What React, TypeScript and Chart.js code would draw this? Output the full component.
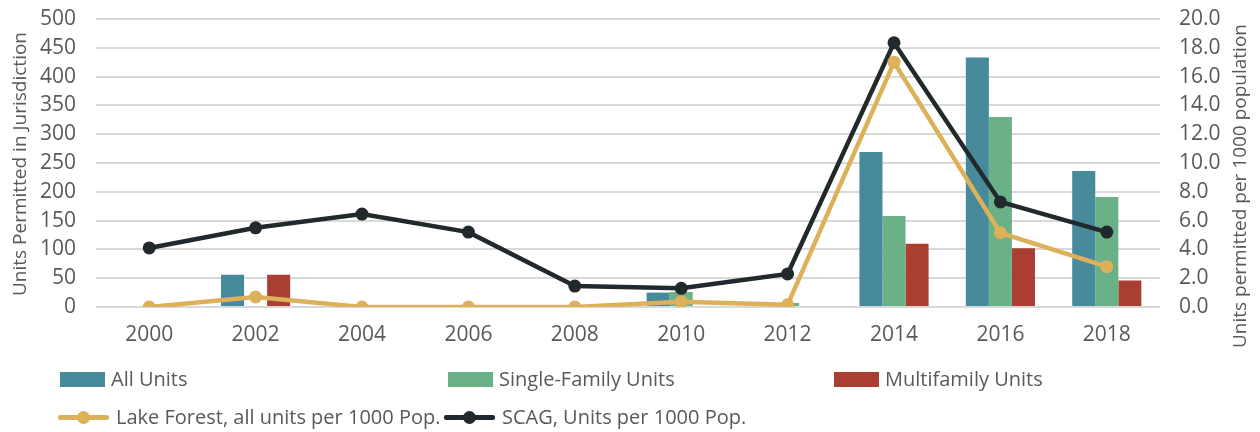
import React, { useEffect, useRef } from "react";
import { Chart, registerables } from "chart.js";

Chart.register(...registerables);

const years = ["2000", "2002", "2004", "2006", "2008", "2010", "2012", "2014", "2016", "2018"];
const allUnits = [0, 56, 0, 0, 0, 25, 7, 269, 433, 236];
const singleFamily = [0, 0, 0, 0, 0, 26, 7, 158, 330, 191];
const multifamily = [0, 56, 0, 0, 0, 0, 0, 110, 102, 46];
const lakeForestPer1000 = [0, 0.7, 0, 0, 0, 0.37, 0.15, 17.0, 5.15, 2.8];
const scagPer1000 = [4.1, 5.5, 6.45, 5.2, 1.45, 1.3, 2.3, 18.35, 7.3, 5.2];

const leftMax = 500;
const leftStep = 50;
const rightMax = 20;
const rightStep = 2;

const leftTitle = "Units Permitted in Jurisdiction";
const rightTitle = "Units permitted per 1000 population";

const barLabels = ["All Units", "Single-Family Units", "Multifamily Units"];
const barColors = ["#478A9B", "#6AB187", "#AA3E33"];
const lineLabels = ["Lake Forest, all units per 1000 Pop.", "SCAG, Units per 1000 Pop."];
const lineColors = ["#DDB05A", "#22292D"];

const FONT = "'Open Sans', 'Liberation Sans', sans-serif";
const TEXT = "#595959";

const titlesPlugin = {
  id: "axisTitles",
  afterDraw(chart: any) {
    const { ctx, chartArea } = chart;
    const cy = (chartArea.top + chartArea.bottom) / 2;
    ctx.save();
    ctx.fillStyle = TEXT;
    ctx.font = `19px ${FONT}`;
    ctx.textAlign = "center";
    ctx.textBaseline = "middle";
    ctx.translate(21, cy + 1);
    ctx.rotate(-Math.PI / 2);
    ctx.fillText(leftTitle, 0, 0);
    ctx.restore();
    ctx.save();
    ctx.fillStyle = TEXT;
    ctx.font = `19px ${FONT}`;
    ctx.textAlign = "center";
    ctx.textBaseline = "middle";
    ctx.translate(1241, cy + 23);
    ctx.rotate(-Math.PI / 2);
    ctx.fillText(rightTitle, 0, 0);
    ctx.restore();
  },
};

export default function App() {
  const ref = useRef<HTMLCanvasElement>(null);

  useEffect(() => {
    if (!ref.current) return;
    const barData = [allUnits, singleFamily, multifamily];
    const lineData = [lakeForestPer1000, scagPer1000];
    const chart = new Chart(ref.current, {
      type: "bar",
      data: {
        labels: years,
        datasets: [
          ...lineData.map((d, i) => ({
            type: "line" as const,
            label: lineLabels[i],
            data: d,
            yAxisID: "y1",
            borderColor: lineColors[i],
            backgroundColor: lineColors[i],
            borderWidth: 4.5,
            pointRadius: 6.5,
            pointBorderWidth: 0,
            pointBackgroundColor: lineColors[i],
            tension: 0,
            order: 0,
          })),
          ...barData.map((d, i) => ({
            type: "bar" as const,
            label: barLabels[i],
            data: d,
            yAxisID: "y",
            backgroundColor: barColors[i],
            borderWidth: 0,
            categoryPercentage: 0.65,
            barPercentage: 1,
            order: 1,
          })),
        ],
      },
      options: {
        responsive: false,
        animation: false,
        layout: { padding: { top: 19, bottom: 85, left: 0, right: 0 } },
        plugins: { legend: { display: false }, tooltip: { enabled: false } },
        scales: {
          x: {
            grid: { display: false },
            border: { display: false },
            ticks: { color: TEXT, font: { family: FONT, size: 21 }, padding: 7, maxRotation: 0, autoSkip: false },
            afterFit: (s: any) => { s.height = 40; },
          },
          y: {
            position: "left",
            min: 0,
            max: leftMax,
            grid: { color: "#D9D9D9", lineWidth: 2, drawTicks: false },
            border: { display: false },
            ticks: { stepSize: leftStep, color: TEXT, font: { family: FONT, size: 21 }, padding: 20, autoSkip: false },
            afterFit: (s: any) => { s.width = 96; s.paddingTop = 0; s.paddingBottom = 0; },
          },
          y1: {
            position: "right",
            min: 0,
            max: rightMax,
            grid: { display: false, drawTicks: false },
            border: { display: false },
            ticks: {
              stepSize: rightStep,
              color: TEXT,
              font: { family: FONT, size: 21 },
              padding: 19,
              autoSkip: false,
              callback: (v: any) => Number(v).toFixed(1),
            },
            afterFit: (s: any) => { s.width = 100; s.paddingTop = 0; s.paddingBottom = 0; },
          },
        },
      },
      plugins: [titlesPlugin],
    });
    return () => chart.destroy();
  }, []);

  const textStyle: React.CSSProperties = {
    fontFamily: FONT,
    fontSize: 20,
    color: TEXT,
    whiteSpace: "nowrap",
    lineHeight: "22px",
  };
  const barLeft = [60, 448, 834];
  const lineLeft = [58, 444];

  return (
    <div style={{ position: "fixed", left: 0, top: 0, width: 1260, height: 432, background: "#fff" }}>
      <canvas ref={ref} width={1260} height={432} style={{ width: 1260, height: 432, display: "block" }} />
      {barLabels.map((l, i) => (
        <div key={l} style={{ position: "absolute", left: barLeft[i], top: 368, display: "flex", alignItems: "center" }}>
          <span style={{ display: "inline-block", width: 45, height: 15, background: barColors[i] }} />
          <span style={{ ...textStyle, marginLeft: 6 }}>{l}</span>
        </div>
      ))}
      {lineLabels.map((l, i) => (
        <div key={l} style={{ position: "absolute", left: lineLeft[i], top: 406, display: "flex", alignItems: "center" }}>
          <span style={{ position: "relative", display: "inline-block", width: 51, height: 22 }}>
            <span style={{ position: "absolute", left: 0, top: 9, width: 51, height: 4.5, background: lineColors[i], borderRadius: 2 }} />
            <span style={{ position: "absolute", left: 19, top: 4.5, width: 13, height: 13, borderRadius: "50%", background: lineColors[i] }} />
          </span>
          <span style={{ ...textStyle, marginLeft: 7 }}>{l}</span>
        </div>
      ))}
    </div>
  );
}
